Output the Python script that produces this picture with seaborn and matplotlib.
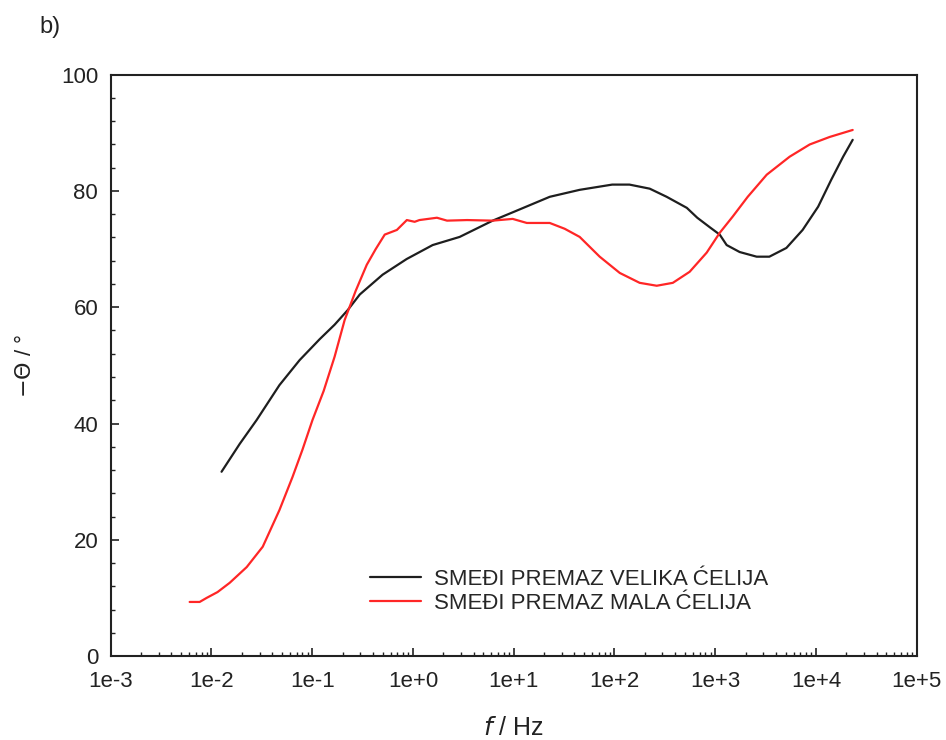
import numpy as np
import pandas as pd
import seaborn as sns
import matplotlib.pyplot as plt
from matplotlib.ticker import FixedLocator, LogLocator, MultipleLocator, NullFormatter

# series 1 - black curve (velika celija)
freq_velika = [0.0126, 0.0191, 0.0281, 0.0473, 0.075, 0.1186, 0.167, 0.225, 0.297, 0.50,
               0.867, 1.57, 2.91, 6.19, 10.0, 22.8, 45.2, 95, 141, 224, 330, 523, 664,
               894, 1109, 1300, 1750, 2580, 3450, 5090, 7380, 10520, 14160, 18620, 23170]
theta_velika = [31.7, 36.5, 40.6, 46.6, 50.9, 54.5, 57.0, 59.5, 62.2, 65.6,
                68.3, 70.7, 72.1, 74.9, 76.4, 79.0, 80.2, 81.1, 81.1, 80.4, 79.0, 77.1, 75.4,
                73.7, 72.5, 70.7, 69.5, 68.7, 68.7, 70.2, 73.3, 77.3, 81.9, 85.9, 88.8]

# series 2 - red curve (mala celija)
freq_mala = [0.00608, 0.00764, 0.00897, 0.0115, 0.0152, 0.0224, 0.0323, 0.0473, 0.0638,
             0.0801, 0.1007, 0.130, 0.167, 0.210, 0.270, 0.348, 0.427, 0.525, 0.693, 0.870,
             1.04, 1.16, 1.73, 2.18, 3.45, 6.19, 9.77, 13.5, 22.8, 32.1, 45.2, 71.4, 113,
             178, 263, 380, 558, 824, 1109, 1493, 2104, 3247, 5484, 8670, 13710, 23170]
theta_mala = [9.3, 9.3, 10.0, 11.0, 12.6, 15.3, 18.8, 25.1, 30.8,
              35.5, 40.6, 45.6, 51.5, 57.8, 62.8, 67.3, 70.0, 72.5, 73.3, 75.0,
              74.7, 75.0, 75.4, 74.9, 75.0, 74.9, 75.2, 74.5, 74.5, 73.5, 72.1, 68.7, 65.9,
              64.2, 63.7, 64.2, 66.1, 69.4, 72.8, 75.6, 79.0, 82.8, 85.9, 88.0, 89.3, 90.5]

labels = ["SMEĐI PREMAZ VELIKA ĆELIJA", "SMEĐI PREMAZ MALA ĆELIJA"]
xticks = [1e-3, 1e-2, 1e-1, 1e0, 1e1, 1e2, 1e3, 1e4, 1e5]
xtick_labels = ["1e-3", "1e-2", "1e-1", "1e+0", "1e+1", "1e+2", "1e+3", "1e+4", "1e+5"]

df = pd.concat([
    pd.DataFrame({"f": freq_velika, "theta": theta_velika, "serija": labels[0]}),
    pd.DataFrame({"f": freq_mala, "theta": theta_mala, "serija": labels[1]}),
], ignore_index=True)

sns.set_style("ticks")
plt.rcParams['font.family'] = ['Liberation Sans', 'DejaVu Sans']

fig = plt.figure(figsize=(9.46, 7.40), dpi=100)
ax = fig.add_axes([0.117, 0.1135, 0.852, 0.7855])

sns.lineplot(data=df, x="f", y="theta", hue="serija", palette=["#1e1e1e", "#ff2626"],
             sort=False, linewidth=1.6, ax=ax)

ax.set_xscale("log")
ax.set_xlim(1e-3, 1e5)
ax.set_ylim(0, 100)

ax.xaxis.set_major_locator(FixedLocator(xticks))
ax.set_xticklabels(xtick_labels)
ax.xaxis.set_minor_locator(LogLocator(base=10, subs=np.arange(2, 10), numticks=20))
ax.xaxis.set_minor_formatter(NullFormatter())
ax.yaxis.set_major_locator(MultipleLocator(20))
ax.yaxis.set_minor_locator(MultipleLocator(4))

ax.tick_params(which="both", direction="in", labelsize=16, colors="#222222",
               top=False, right=False)
ax.tick_params(which="major", length=6, width=1.2)
ax.tick_params(which="minor", length=3, width=1.0)
ax.tick_params(axis="x", which="major", pad=11)
ax.tick_params(axis="y", which="major", pad=9)
for sp in ax.spines.values():
    sp.set_linewidth(1.5)
    sp.set_color("#222222")

ax.set_xlabel(r"$f$ / Hz", fontsize=18, labelpad=17, color="#222222")
ax.set_ylabel(r"$-\Theta$ / °", fontsize=16, labelpad=18, color="#222222")

ax.legend(frameon=False, loc="upper left", bbox_to_anchor=(0.322, 0.15),
          fontsize=16, handlelength=2.3, handletextpad=0.55, borderpad=0,
          borderaxespad=0, labelspacing=0.15)

fig.text(0.042, 0.955, "b)", fontsize=17, color="#222222")

plt.savefig("out.png", dpi=100)
